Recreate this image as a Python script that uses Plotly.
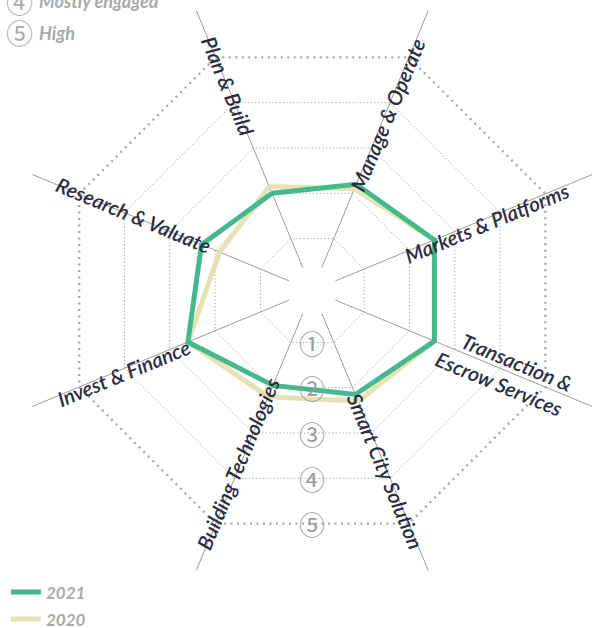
import math
import plotly.graph_objects as go

# ---- data -------------------------------------------------------------
categories = [
    "Plan & Build",
    "Manage & Operate",
    "Markets & Platforms",
    "Transaction & Escrow Services",
    "Smart City Solution",
    "Building Technologies",
    "Invest & Finance",
    "Research & Valuate",
]
category_labels = [
    "Plan & Build",
    "Manage & Operate",
    "Markets & Platforms",
    "Transaction &<br>Escrow Services",
    "Smart City Solution",
    "Building Technologies",
    "Invest & Finance",
    "Research & Valuate",
]
values_2021 = [2.0, 2.2, 2.55, 2.55, 2.15, 1.95, 2.6, 2.3]
values_2020 = [2.15, 2.1, 2.55, 2.55, 2.3, 2.2, 2.6, 1.9]
years = ["2021", "2020"]
levels = [1, 2, 3, 4, 5]
level_marks = ["①", "②", "③", "④", "⑤"]
key_marks = ["④", "⑤"]
key_names = ["Mostly engaged", "High"]

# ---- layout geometry (pixels) ----------------------------------------
W, H = 592, 628
CX, CY = 312.3, 290.5          # centre of the radar
R_OUT = 279.7                  # outer radius of the polar subplot
SPOKE_END = 303                # spokes run a little past the subplot
HOLE_PX = 25                   # spokes start here
PX_AT_ZERO, PX_PER_LEVEL = 7.1, 49.05

r_min = (HOLE_PX - PX_AT_ZERO) / PX_PER_LEVEL
r_max = (R_OUT - PX_AT_ZERO) / PX_PER_LEVEL
first_angle = -22.5            # compass bearing of the first category
step = 360 / len(categories)
COS8 = math.cos(math.radians(22.5))

GREEN = "#45b98d"
BEIGE = "#e6e2b4"
GRID = "#a8a8a8"
SPOKE = "#9c9c9c"
LABEL = "#2c2c3c"
MUTED = "#a9a9a9"


def level_px(v):
    return PX_AT_ZERO + PX_PER_LEVEL * v


def to_paper(x, y):
    return x / W, 1 - y / H


def closed(seq):
    return list(seq) + [seq[0]]


fig = go.Figure()

# outermost level ring, drawn heavier than the inner grid
fig.add_trace(go.Scatterpolar(
    r=closed([levels[-1]] * len(categories)), theta=closed(categories),
    mode="lines", line=dict(color=GRID, width=2.4, dash="2px,4.5px"),
    showlegend=False, hoverinfo="skip",
))

fig.add_trace(go.Scatterpolar(
    r=closed(values_2020), theta=closed(categories), name=years[1],
    mode="lines", line=dict(color=BEIGE, width=5),
    legendgroup=years[1], legendrank=2, hoverinfo="skip",
))
fig.add_trace(go.Scatterpolar(
    r=closed(values_2021), theta=closed(categories), name=years[0],
    mode="lines", line=dict(color=GREEN, width=5),
    legendgroup=years[0], legendrank=1, hoverinfo="skip",
))

dx0, dy0 = to_paper(CX - R_OUT, CY + R_OUT)
dx1, dy1 = to_paper(CX + R_OUT, CY - R_OUT)

shapes = []
annotations = []

# spoke extensions beyond the subplot edge
for i in range(len(categories)):
    a = math.radians(first_angle + i * step)
    x0, y0 = to_paper(CX + (R_OUT - 1) * math.sin(a), CY - (R_OUT - 1) * math.cos(a))
    x1, y1 = to_paper(CX + SPOKE_END * math.sin(a), CY - SPOKE_END * math.cos(a))
    shapes.append(dict(type="line", xref="paper", yref="paper",
                       x0=x0, y0=y0, x1=x1, y1=y1,
                       line=dict(color=SPOKE, width=1), layer="below"))

# category labels, laid along their spokes
label_dist = [221, 191, 187, 208, 195, 189, 206, 194]
label_shift = [0, 2, 4, 1, 2, 2, -4, 1]
for i, text in enumerate(category_labels):
    deg = first_angle + i * step
    a = math.radians(deg)
    ux, uy = math.sin(a), -math.cos(a)
    nx, ny = math.cos(a), math.sin(a)
    px = CX + label_dist[i] * ux + label_shift[i] * nx
    py = CY + label_dist[i] * uy + label_shift[i] * ny
    ang = ((deg - 90 + 90) % 180) - 90
    x, y = to_paper(px, py)
    annotations.append(dict(
        x=x, y=y, xref="paper", yref="paper", text=text, showarrow=False,
        textangle=ang, xanchor="center", yanchor="middle",
        align="right",
        font=dict(family="Lato", size=20.5, color=LABEL, weight=600, style="italic"),
    ))

# level markers on the bottom edge of each ring
for v, mark in zip(levels, level_marks):
    x, y = to_paper(CX, CY + level_px(v) * COS8)
    annotations.append(dict(
        x=x, y=y, xref="paper", yref="paper", text=mark, showarrow=False,
        xanchor="center", yanchor="middle", bgcolor="rgba(255,255,255,0)",
        borderpad=0,
        font=dict(family="Noto Sans CJK JP", size=26, color="#9a9a9a"),
    ))

# level key in the top-left corner
for j, (mark, name) in enumerate(zip(key_marks, key_names)):
    yk = 1 + j * 31.5
    x, y = to_paper(19, yk)
    annotations.append(dict(
        x=x, y=y, xref="paper", yref="paper", text=mark, showarrow=False,
        xanchor="center", yanchor="middle",
        font=dict(family="Noto Sans CJK JP", size=27, color=MUTED),
    ))
    x, y = to_paper(37, yk)
    annotations.append(dict(
        x=x, y=y, xref="paper", yref="paper", text=name, showarrow=False,
        xanchor="left", yanchor="middle",
        font=dict(family="Lato", size=18, color=MUTED, style="italic", weight="bold"),
    ))

fig.update_layout(
    width=W, height=H,
    margin=dict(l=0, r=0, t=0, b=0, autoexpand=False),
    paper_bgcolor="white",
    plot_bgcolor="white",
    polar=dict(
        domain=dict(x=[max(0, dx0), min(1, dx1)], y=[max(0, dy0), min(1, dy1)]),
        bgcolor="white",
        gridshape="linear",
        hole=HOLE_PX / R_OUT,
        radialaxis=dict(range=[r_min, r_max], tickvals=levels[:-1],
                        showticklabels=False, ticks="", showline=False,
                        gridcolor=GRID, griddash="1.3px,2.2px", gridwidth=1),
        angularaxis=dict(type="category", categoryarray=categories,
                         direction="clockwise", rotation=90 - first_angle,
                         showticklabels=False, ticks="", showline=False,
                         gridcolor=SPOKE, gridwidth=1),
    ),
    legend=dict(x=0.01, y=-0.015, xanchor="left", yanchor="bottom",
                bgcolor="rgba(0,0,0,0)", tracegroupgap=2,
                font=dict(family="Lato", size=17, color=MUTED,
                          style="italic", weight="bold")),
    shapes=shapes,
    annotations=annotations,
)

fig.write_html("out.html")
